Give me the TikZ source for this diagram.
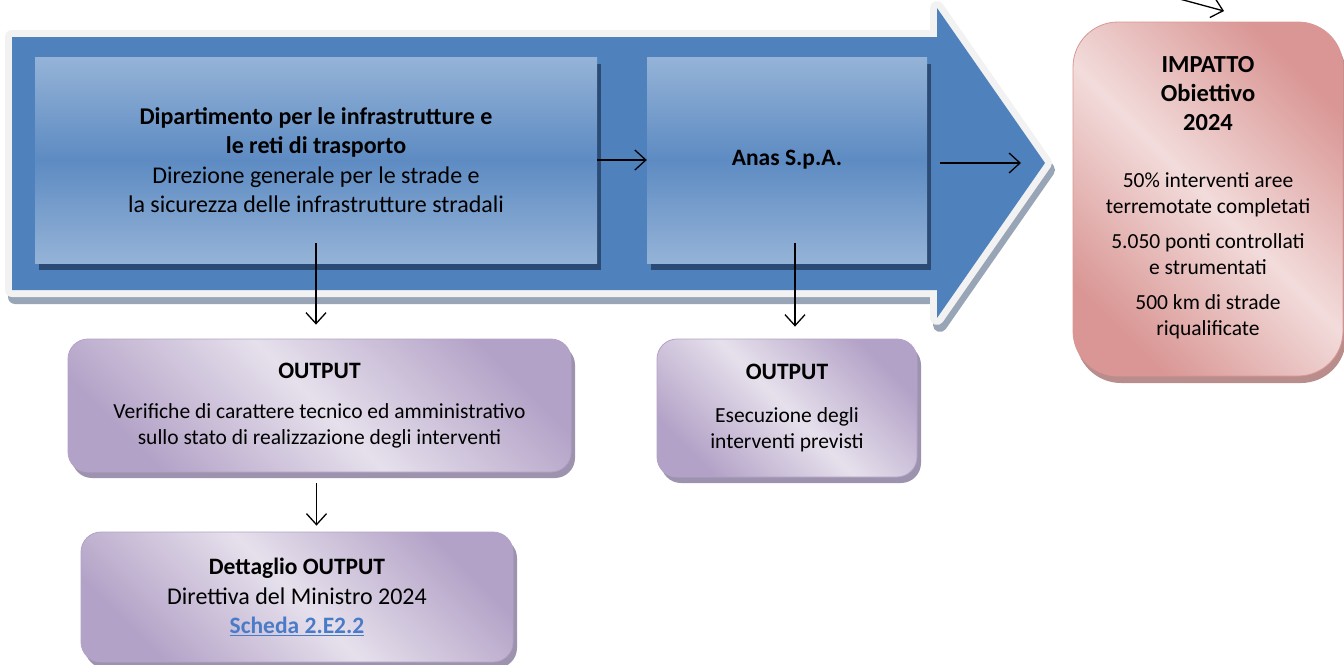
\documentclass[tikz,border=0pt]{standalone}
\usepackage{fontspec}
\setmainfont{Carlito}
\usetikzlibrary{arrows.meta,shadows}
\definecolor{bluem}{HTML}{4F81BD}
\definecolor{bluel}{HTML}{95B3D7}
\definecolor{navy}{HTML}{2B4A74}
\definecolor{borderl}{HTML}{F2F2F2}
\definecolor{shadowg}{HTML}{98A5B6}
\definecolor{purpleD}{HTML}{B3A2C7}
\definecolor{purpleL}{HTML}{E6E0EC}
\definecolor{purpleS}{HTML}{9E93AE}
\definecolor{pinkD}{HTML}{D99694}
\definecolor{pinkL}{HTML}{F2DCDB}
\definecolor{pinkS}{HTML}{B98D8C}
\definecolor{linkc}{HTML}{4A7BC8}
\tikzset{
  conn/.style={draw=black, line width=1.3pt, -{Straight Barb[length=11pt,width=20pt]}},
  bluebox/.style={draw=none, top color=bluel, bottom color=bluel, middle color=bluem!92!white,
    drop shadow={shadow xshift=4pt,shadow yshift=-7pt,fill=navy,opacity=1},
    inner sep=0pt, align=center, font=\fontsize{24}{29.3}\selectfont},
  purplebox/.style={rounded corners=20pt, draw=purpleD, line width=0.8pt,
    top color=purpleD, bottom color=purpleD, middle color=purpleL, shading angle=-45,
    drop shadow={shadow xshift=4pt,shadow yshift=-6pt,fill=purpleS,opacity=1},
    inner sep=0pt, align=center, font=\fontsize{21.5}{25.5}\selectfont},
  pinkbox/.style={rounded corners=45pt, draw=pinkD, line width=0.8pt,
    top color=pinkD, bottom color=pinkD, middle color=pinkL, shading angle=-45,
    drop shadow={shadow xshift=3pt,shadow yshift=-7pt,fill=pinkS,opacity=1},
    inner sep=0pt, align=center, font=\fontsize{21.5}{25.5}\selectfont},
}
\newcommand{\hd}[1]{{\fontsize{23.5}{25.5}\selectfont\bfseries #1}}
\newcommand{\hdb}[1]{{\fontsize{24.5}{25.5}\selectfont\bfseries #1}}
\begin{document}
\begin{tikzpicture}[x=1pt,y=-1pt]
\useasboundingbox (0,0) rectangle (1344,664);
\clip (0,0) rectangle (1344,664);
% big process arrow
\fill[shadowg, draw=shadowg, line width=14pt, line join=round]
  (15,44) -- (940,44) -- (940,15) -- (1048,170) -- (940,325) -- (940,297) -- (15,297) -- cycle;
\fill[borderl, draw=borderl, line width=14pt, line join=round]
  (12,37) -- (937,37) -- (937,8) -- (1045,163) -- (937,318) -- (937,290) -- (12,290) -- cycle;
\fill[bluem]
  (12,37) -- (937,37) -- (937,8) -- (1045,163) -- (937,318) -- (937,290) -- (12,290) -- cycle;

\node[bluebox, minimum width=562, minimum height=206] (dip) at (316,160)
  {\bfseries Dipartimento per le infrastrutture e\\ \bfseries le reti di trasporto\\
   Direzione generale per le strade e\\ la sicurezza delle infrastrutture stradali};
\node[bluebox, minimum width=280, minimum height=206, font=\fontsize{23.5}{29}\selectfont] (anas) at (787,160)
  {\bfseries Anas S.p.A.};

\node[purplebox, minimum width=503, minimum height=133] (out1) at (319.5,405.5)
  {\hd{OUTPUT}\\[15pt] Verifiche di carattere tecnico ed amministrativo\\ sullo stato di realizzazione degli interventi};
\node[purplebox, minimum width=260, minimum height=138] (out2) at (787,408)
  {\hd{OUTPUT}\\[18pt] Esecuzione degli\\ interventi previsti};
\node[purplebox, minimum width=432, minimum height=130] (det) at (297,597)
  {\hd{Dettaglio OUTPUT}\\[4pt] {\fontsize{24}{25.5}\selectfont Direttiva del Ministro 2024}\\[4pt]
   {\color{linkc}\hd{\underline{Scheda 2.E2.2}}}};
\node[pinkbox, minimum width=270, minimum height=354] (imp) at (1208,199)
  {\hdb{IMPATTO}\\[3.5pt] \hdb{Obiettivo}\\[3.5pt] \hdb{2024}\\[32pt]
   50\% interventi aree\\ terremotate completati\\[10pt]
   5.050 ponti controllati\\ e strumentati\\[10pt]
   500 km di strade\\ riqualificate\\[-19pt]};

% connectors
\coordinate (a1) at (940,163);
\coordinate (a2) at (1021,163);
\coordinate (ts) at (1150,-9);
\coordinate (te) at (1224,11);
\draw[conn] (dip.east) -- (anas.west);
\draw[conn] (a1) -- (a2);
\draw[conn] ([yshift=20pt]dip.south) -- ([yshift=14pt]dip.south |- out1.north);
\draw[conn] ([xshift=8pt,yshift=20pt]anas.south) -- ([xshift=8pt,yshift=12pt]anas.south |- out2.north);
\draw[conn] ([xshift=-3pt,yshift=-11pt]out1.south) -- ([xshift=-3pt,yshift=6pt]out1.south |- det.north);
\draw[conn] (ts) -- (te);
\end{tikzpicture}
\end{document}
